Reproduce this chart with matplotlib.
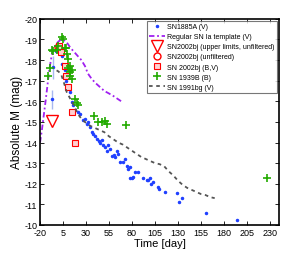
import numpy as np
import matplotlib
matplotlib.use("Agg")
import matplotlib.pyplot as plt

plt.rcParams['font.family'] = ['Liberation Sans', 'DejaVu Sans']

# SN1885A (V)
sn1885a_t = [-3, 1, 3, 4, 4, 7, 8, 10, 12.6, 14.4, 16, 18, 21, 23.5, 27, 29, 31, 32, 34, 36.5,
             38, 40, 42, 44, 45, 47, 49, 50.6, 52.8, 54, 56, 58, 60, 61.5, 63.7, 65, 67, 70,
             72, 74.5, 75.6, 78, 78, 80, 81.5, 83, 86.5, 92, 96, 97.6, 99.6, 100.6, 102.8,
             108, 109, 116, 129, 131, 134, 160, 194]
sn1885a_m = [-18.45, -18.5, -18.5, -18.2, -17.8, -17.5, -17.0, -16.75, -16.45, -15.95, -15.8,
             -15.6, -15.5, -15.4, -15.1, -15.15, -14.9, -15.0, -14.75, -14.5, -14.4, -14.3,
             -14.17, -14.05, -14.0, -14.1, -13.9, -13.8, -13.6, -13.9, -13.7, -13.35, -13.4,
             -13.3, -13.6, -13.45, -13.05, -13.05, -13.2, -12.87, -12.7, -12.8, -12.3, -12.3,
             -12.35, -12.55, -12.55, -12.3, -12.2, -12.2, -12.3, -12.0, -12.1, -11.83, -11.75,
             -11.6, -11.55, -11.1, -11.3, -10.6, -10.25]
# early SN1885A points with error bars
sn1885a_err_t = [-6, -7]
sn1885a_err_m = [-17.65, -16.1]
sn1885a_err_e = [0.55, 0.45]

# Regular SN Ia template (V)
tmpl_t = [-20, -18, -16, -14, -12, -10, -8, -6, -4, -2, 0, 2, 4, 6, 8, 10, 13, 16, 19, 22,
          25, 29, 32, 36, 40, 45, 50, 55, 60, 65, 70]
tmpl_m = [-14.0, -14.6, -15.3, -16.0, -16.75, -17.5, -18.05, -18.45, -18.65, -18.8, -18.9,
          -18.97, -19.0, -18.97, -18.9, -18.8, -18.6, -18.45, -18.3, -18.15, -18.0, -17.7,
          -17.35, -17.1, -16.9, -16.7, -16.5, -16.38, -16.25, -16.1, -15.95]

# SN2002bj
ul_t = [-7.5]
ul_m = [-15.05]
unf_t = [-0.5]
unf_m = [-18.65]
bv_t = [0.6, 2.8, 7, 8, 10.4, 14.4, 18.5]
bv_m = [-18.7, -18.4, -17.7, -17.25, -16.7, -15.5, -14.0]
bv_e = [0.12, 0.1, 0.1, 0.12, 0.1, 0.1, 0.12]

# SN 1939B (B)
sn1939b_t = [-11, -9, -7.3, -5.6, -2, 0, 4, 5, 7, 8.3, 9, 10.4, 10.4, 12.3, 12.6, 12.6, 14.4,
             14.8, 18, 20, 21, 38.7, 43, 47, 50.6, 52.8, 73.5, 227]
sn1939b_m = [-17.25, -17.6, -18.5, -18.45, -18.5, -18.7, -19.1, -19.0, -18.6, -18.6, -18.3,
             -18.05, -17.6, -17.7, -17.4, -17.25, -17.5, -17.1, -16.1, -15.9, -15.8, -15.3,
             -15.0, -15.0, -15.05, -14.9, -14.85, -12.3]

# SN 1991bg (V)
sn1991bg_t = [-2, 0, 3, 6, 9, 12, 15, 18, 21, 25, 30, 35, 40, 45, 50, 55, 60, 65, 70, 75, 80,
              85, 90, 95, 100, 105, 110, 115, 120, 125, 130, 135, 140, 145, 150, 155, 160, 165, 170]
sn1991bg_m = [-17.5, -17.45, -17.3, -16.9, -16.45, -16.2, -15.95, -15.7, -15.4, -15.15, -14.95,
              -14.8, -14.7, -14.6, -14.5, -14.3, -14.15, -14.0, -13.9, -13.75, -13.6, -13.45,
              -13.3, -13.2, -13.1, -13.0, -12.95, -12.85, -12.6, -12.4, -12.15, -11.95, -11.8,
              -11.7, -11.6, -11.5, -11.45, -11.35, -11.3]

xticks = [-20, 5, 30, 55, 80, 105, 130, 155, 180, 205, 230]
yticks = [-20, -19, -18, -17, -16, -15, -14, -13, -12, -11, -10]

fig = plt.figure(figsize=(3.08, 2.55), dpi=100)
ax = fig.add_axes([0.13, 0.114, 0.776, 0.808])

ax.errorbar(sn1885a_err_t, sn1885a_err_m, yerr=sn1885a_err_e, fmt='none',
            ecolor='#a8b8f0', elinewidth=1.0, capsize=0)
ax.plot(sn1885a_err_t, sn1885a_err_m, '.', color='#2040ff', ms=3)
h1, = ax.plot(sn1885a_t, sn1885a_m, '.', color='#2040ff', ms=3, label='SN1885A (V)')
h2, = ax.plot(tmpl_t, tmpl_m, '-.', color='#a020f0', lw=1.3, dashes=(3, 1.5, 1, 1.5),
              label='Regular SN Ia template (V)')
h3, = ax.plot(ul_t, ul_m, 'v', mfc='none', mec='red', ms=9, mew=1.0,
              label='SN2002bj (upper limits, unfiltered)')
h4, = ax.plot(unf_t, unf_m, 'o', mfc='none', mec='red', ms=5, mew=1.0,
              label='SN2002bj (unfiltered)')
ax.errorbar(bv_t, bv_m, yerr=bv_e, fmt='none', ecolor='red', elinewidth=0.8, capsize=0)
h5, = ax.plot(bv_t, bv_m, 's', mfc='#ffd0d0', mec='red', ms=4, mew=0.8,
              label='SN 2002bj (B,V)')
h6, = ax.plot(sn1939b_t, sn1939b_m, '+', color='#22aa00', ms=6, mew=1.2, label='SN 1939B (B)')
h7, = ax.plot(sn1991bg_t, sn1991bg_m, '--', color='#555555', lw=1.3, dashes=(2, 2),
              label='SN 1991bg (V)')

ax.set_xlim(-20, 240)
ax.set_ylim(-10, -20)
ax.set_xticks(xticks)
ax.set_yticks(yticks)
ax.set_xticklabels([str(v) for v in xticks])
ax.set_yticklabels([str(v) for v in yticks])
ax.tick_params(direction='in', top=True, right=True, labelsize=6.5, length=3, width=0.6, pad=2)
for s in ax.spines.values():
    s.set_linewidth(1.2)
ax.set_xlabel('Time [day]', fontsize=8, labelpad=1)
ax.set_ylabel('Absolute M (mag)', fontsize=8.5, labelpad=1)

leg = ax.legend(handles=[h1, h2, h3, h4, h5, h6, h7], loc='upper right', fontsize=5,
                frameon=True, fancybox=False, edgecolor='#555555', borderpad=0.3,
                labelspacing=0.45, handlelength=2.2, handletextpad=0.4,
                borderaxespad=0.3, numpoints=1)
leg.get_frame().set_linewidth(0.8)

fig.savefig('out.png', dpi=100)
